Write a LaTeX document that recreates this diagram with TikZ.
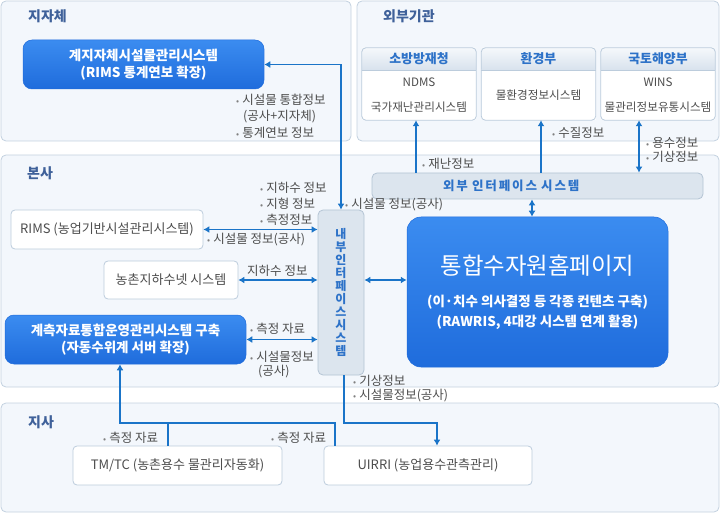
\documentclass[tikz,border=0pt]{standalone}
\usepackage{fontspec}
\setmainfont{Noto Sans CJK KR}
\usetikzlibrary{arrows.meta}
\definecolor{panelfill}{HTML}{F3F7FC}
\definecolor{panelline}{HTML}{C3D1DF}
\definecolor{titleblue}{HTML}{3F619A}
\definecolor{boxtop}{HTML}{3B8CF0}
\definecolor{boxbot}{HTML}{1F6CDC}
\definecolor{arrowblue}{HTML}{1A74C8}
\definecolor{textgray}{HTML}{4D4D4D}
\definecolor{headblue}{HTML}{2D72C8}
\definecolor{ifill}{HTML}{DCE5EE}
\definecolor{iline}{HTML}{B4C4D4}
\definecolor{wline}{HTML}{BCCCDC}
\definecolor{htop}{HTML}{F5F8FB}
\definecolor{hbot}{HTML}{D8E2ED}
\newcommand\bul{{\fontsize{9}{9}\selectfont\color{gray}•}\hspace{3pt}}
\tikzset{
  panel/.style={draw=panelline,fill=panelfill,rounded corners=5pt,line width=.8pt},
  title/.style={anchor=west,inner sep=0pt,text=titleblue,font=\fontsize{14}{14}\selectfont\bfseries},
  bluebox/.style={rounded corners=9pt,top color=boxtop,bottom color=boxbot,draw=boxbot,line width=.5pt,
    text=white,align=center,font=\fontsize{13.5}{17}\selectfont\bfseries},
  whitebox/.style={draw=wline,fill=white,rounded corners=4pt,line width=.8pt,text=textgray,
    font=\fontsize{13}{14}\selectfont},
  ifbox/.style={draw=iline,fill=ifill,rounded corners=5pt,line width=.8pt,text=headblue,
    font=\fontsize{12}{12.9}\selectfont\bfseries},
  head/.style={top color=htop,bottom color=hbot,minimum width=114pt,minimum height=22pt,inner sep=0pt,
    text=headblue,font=\fontsize{12.9}{12.9}\selectfont\bfseries},
  extbody/.style={fill=white,minimum width=114pt,minimum height=50pt,inner sep=0pt,align=center,
    text=textgray,font=\fontsize{11.6}{25}\selectfont},
  lbl/.style={anchor=west,inner sep=0pt,text=textgray,font=\fontsize{12.5}{13}\selectfont},
  arr/.style={draw=arrowblue,line width=1.8pt},
  >={Latex[length=6pt,width=7pt]}
}
\begin{document}
\begin{tikzpicture}[x=1pt,y=-1pt]
\useasboundingbox (0,0) rectangle (720,513);
\draw[panel] (1,1) rectangle (351,141);
\draw[panel] (357,1) rectangle (719,141);
\draw[panel] (1,155) rectangle (719,387);
\draw[panel] (1,403) rectangle (719,512);
\foreach \p/\t [count=\i] in {{28,16}/지자체,{383,16}/외부기관,{27,173}/본사,{28,422}/지사}
  \node[title] (t\i) at (\p) {\t};
\path
  (416,0) coordinate (x1) (541,0) coordinate (x2) (639,0) coordinate (x3) (532,0) coordinate (x4)
  (344,423) coordinate (j1) (437,423) coordinate (j2) (120,423) coordinate (j3)
  (335,423) coordinate (j4) (168,423) coordinate (j5);
\node[bluebox,minimum width=241pt,minimum height=49pt] (gov) at (143.5,64.5) {계지자체시설물관리시스템\\(RIMS 통계연보 확장)};
\node[bluebox,minimum width=241pt,minimum height=49pt] (meas) at (125.5,339.5) {계측자료통합운영관리시스템 구축\\(자동수위계 서버 확장)};
\node[bluebox,minimum width=261pt,minimum height=150pt,rounded corners=14pt,font=\fontsize{13.5}{20}\selectfont\bfseries] (home) at (537.5,292)
  {{\fontsize{23.4}{23.4}\selectfont\mdseries 통합수자원홈페이지}\\[12pt](이·치수 의사결정 등 각종 컨텐츠 구축)\\(RAWRIS, 4대강 시스템 연계 활용)};
\foreach \n/\cx/\hd/\bd in {fire/419/소방방재청/{NDMS\\국가재난관리시스템},env/538.5/환경부/물환경정보시스템,land/658/국토해양부/{WINS\\물관리정보유통시스템}}{
  \node[head] (h\n) at (\cx,59) {\hd};
  \node[extbody] (\n) at (\cx,95) {\bd};
  \draw[wline,line width=.8pt] (h\n.south west) -- (h\n.south east);
  \draw[wline,rounded corners=4pt,line width=.8pt] (h\n.north west) rectangle (\n.south east);
}
\node[ifbox,minimum width=331pt,minimum height=26pt,text width=331pt,align=left,inner xsep=0pt,
  font=\fontsize{12.5}{12.5}\selectfont\bfseries] (extif) at (537.5,186)
  {\hspace{71pt}\addfontfeatures{LetterSpace=15}외부 인터페이스 시스템};
\node[ifbox,minimum width=46pt,minimum height=165pt,align=center] (inif) at (341,292.5) {내\\부\\인\\터\\페\\이\\스\\시\\스\\템};
\node[whitebox,minimum width=192pt,minimum height=39pt] (rims) at (107,229.5) {RIMS (농업기반시설관리시스템)};
\node[whitebox,minimum width=134pt,minimum height=38pt] (gw) at (171,280) {농촌지하수넷 시스템};
\node[whitebox,minimum width=209pt,minimum height=39pt] (tmtc) at (177.5,465.5) {TM/TC (농촌용수 물관리자동화)};
\node[whitebox,minimum width=208pt,minimum height=39pt] (uirri) at (428,465.5) {UIRRI (농업용수관측관리)};
\draw[arr,<->] (gov.east) -| (inif.north);
\foreach \b in {rims,gw,meas} \draw[arr,<->] (\b.east) -- (\b.east -| inif.west);
\draw[arr,<->] (inif.east |- gw) -- (home.west |- gw);
\draw[arr,<->] (extif.south -| x4) -- (home.north -| x4);
\draw[arr,->] (extif.north -| x1) -- (fire.south -| x1);
\draw[arr,->] (extif.north -| x2) -- (env.south -| x2);
\draw[arr,<->] (extif.north -| x3) -- (land.south -| x3);
\draw[arr,->] (inif.south -| j1) -- (j1) -- (j2) -- (uirri.north -| j2);
\draw[arr,->] (uirri.north -| j4) -- (j4) -- (j3) -- (meas.south -| j3);
\draw[arr] (tmtc.north -| j5) -- (j5);
\foreach \p/\t [count=\i] in {{236,100}/시설물 통합정보,{236,133}/통계연보 정보,{422,164}/재난정보,{552,133}/수질정보,
  {646,143}/용수정보,{646,157}/기상정보,{260,188}/지하수 정보,{260,204}/지형 정보,{260,220}/측정정보,
  {207,240}/시설물 정보(공사),{345,205}/시설물 정보(공사),{250,329}/측정 자료,{250,357}/시설물정보,
  {353,381}/기상정보,{353,396}/시설물정보(공사),{103,438}/측정 자료,{271,438}/측정 자료}
  \node[lbl] (l\i) at (\p) {\bul\t};
\node[lbl] (govnote) at (243,117) {(공사+지자체)};
\node[lbl] (gwnote) at (247,271) {지하수 정보};
\node[lbl] (measnote) at (258,372) {(공사)};
\end{tikzpicture}
\end{document}
